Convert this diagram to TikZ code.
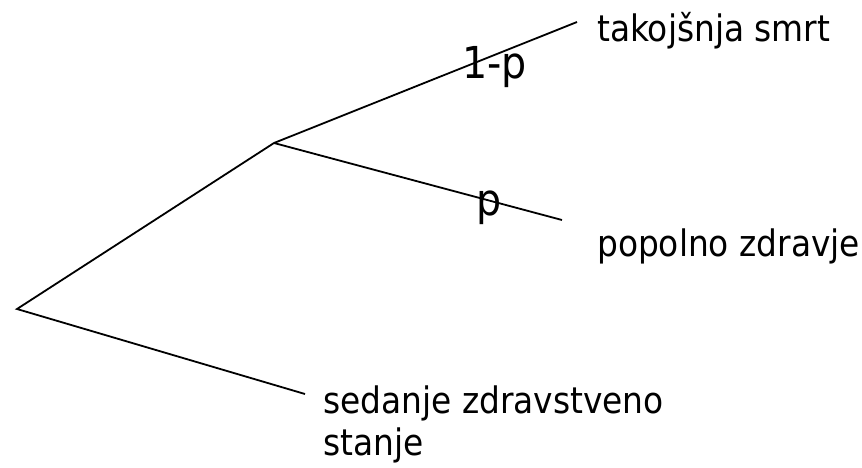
\documentclass[tikz,border=0pt]{standalone}
\usepackage{fontspec}
\setmainfont{DejaVu Sans Condensed}
\begin{document}
\begin{tikzpicture}[x=1pt,y=-1pt,
  branch/.style={draw=black,line width=1.8pt},
  lbl/.style={inner sep=0pt,anchor=base west,font=\fontsize{36.5}{42}\selectfont,align=left},
  prob/.style={inner sep=0pt,anchor=base west,font=\fontsize{44}{48}\selectfont}]
\useasboundingbox[fill=white] (0,0) rectangle (862,467);
\coordinate (root) at (17,309);
\coordinate (chance) at (274,143);
\coordinate (death) at (577,22);
\coordinate (health) at (562,220);
\coordinate (current) at (305,394);
\draw[branch] (current) -- (root) -- (chance) -- (death);
\draw[branch] (chance) -- (health);
\node[lbl] (tdeath) at (597,41) {takojšnja smrt};
\node[lbl] (thealth) at (597,256) {popolno zdravje};
\node[lbl] (tcurrent) at (323,455) {sedanje zdravstveno\\stanje};
\node[prob] (pdeath) at (462,78) {1-p};
\node[prob] (phealth) at (476,215) {p};
\end{tikzpicture}
\end{document}
